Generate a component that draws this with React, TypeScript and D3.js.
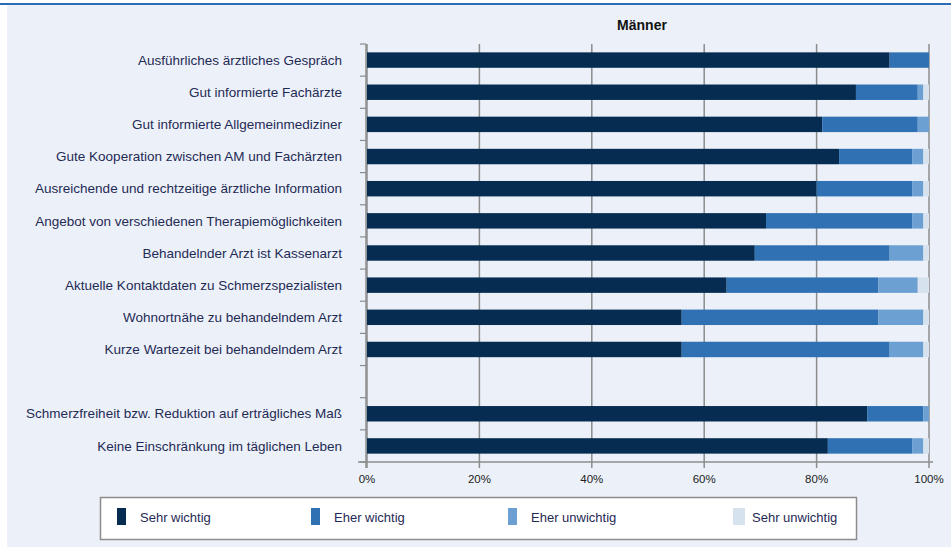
import React from "react";
import * as d3 from "d3";

// Categories, top to bottom; an empty string leaves a blank row between the groups
const categories = [
  "Ausführliches ärztliches Gespräch",
  "Gut informierte Fachärzte",
  "Gut informierte Allgemeinmediziner",
  "Gute Kooperation zwischen AM und Fachärzten",
  "Ausreichende und rechtzeitige ärztliche Information",
  "Angebot von verschiedenen Therapiemöglichkeiten",
  "Behandelnder Arzt ist Kassenarzt",
  "Aktuelle Kontaktdaten zu Schmerzspezialisten",
  "Wohnortnähe zu behandelndem Arzt",
  "Kurze Wartezeit bei behandelndem Arzt",
  "",
  "Schmerzfreiheit bzw. Reduktion auf erträgliches Maß",
  "Keine Einschränkung im täglichen Leben",
];

// Shares in percent, one value per category (null for the blank row)
const sehrWichtig = [93, 87, 81, 84, 80, 71, 69, 64, 56, 56, null, 89, 82];
const eherWichtig = [7, 11, 17, 13, 17, 26, 24, 27, 35, 37, null, 10, 15];
const eherUnwichtig = [0, 1, 2, 2, 2, 2, 6, 7, 8, 6, null, 1, 2];
const sehrUnwichtig = [0, 1, 0, 1, 1, 1, 1, 2, 1, 1, null, 0, 1];

const seriesNames = ["Sehr wichtig", "Eher wichtig", "Eher unwichtig", "Sehr unwichtig"];
const seriesColors = ["#062c52", "#2f71b3", "#6c9fd2", "#d7e2ef"];
const tickValues = [0, 20, 40, 60, 80, 100];

const title = "Männer";

const W = 951;
const H = 547;
const margin = { left: 366, right: 22, top: 44, bottom: 85 };
const FONT = "'Liberation Sans', Arial, sans-serif";

export default function App() {
  const seriesValues = [sehrWichtig, eherWichtig, eherUnwichtig, sehrUnwichtig];
  const rows = categories.map((c, i) => ({
    key: `${i}`,
    label: c,
    values: seriesValues.map((s) => s[i]),
  }));

  const x = d3.scaleLinear().domain([0, 100]).range([margin.left + 1, W - margin.right]);
  const y = d3
    .scaleBand<string>()
    .domain(rows.map((r) => r.key))
    .range([margin.top, H - margin.bottom])
    .paddingInner(0.52)
    .paddingOuter(0.26);

  const stackInput = rows
    .filter((r) => r.values[0] !== null)
    .map((r) => {
      const o: Record<string, number | string> = { key: r.key };
      seriesNames.forEach((n, j) => (o[n] = r.values[j] as number));
      return o;
    });
  const stacked = d3.stack<Record<string, number | string>>().keys(seriesNames)(stackInput as any);

  const plotTop = margin.top;
  const plotBottom = H - margin.bottom;
  const boundaries = d3
    .range(categories.length + 1)
    .map((i) => plotTop + i * ((plotBottom - plotTop) / categories.length));

  const legendX = [117, 311, 508, 733];

  return (
    <svg width={W} height={H} style={{ display: "block", position: "absolute", left: 0, top: 0 }} fontFamily={FONT}>
      <rect x={0} y={0} width={W} height={H} fill="#ffffff" />
      <rect x={7} y={5} width={W - 7} height={H - 5} fill="#ecf1f9" />
      <line x1={0} x2={W} y1={4} y2={4} stroke="#2b6db5" strokeWidth={2} />

      <text x={642} y={30} textAnchor="middle" fontSize={14} fontWeight="bold" fill="#111">
        {title}
      </text>

      {/* vertical gridlines with small ticks below the axis */}
      {tickValues.map((t) => (
        <g key={t}>
          <line x1={x(t)} x2={x(t)} y1={plotTop} y2={plotBottom + 6} stroke="#8c8c8c" strokeWidth={1.5} />
          <text x={x(t)} y={plotBottom + 21} textAnchor="middle" fontSize={11.5} fill="#222">
            {t}%
          </text>
        </g>
      ))}

      {/* left axis ticks at category boundaries */}
      {boundaries.map((b, i) => (
        <line key={i} x1={margin.left - 6} x2={margin.left} y1={b} y2={b} stroke="#8c8c8c" strokeWidth={1.2} />
      ))}
      <line x1={margin.left} x2={margin.left} y1={plotTop} y2={plotBottom + 6} stroke="#8c8c8c" strokeWidth={1.5} />
      <line x1={margin.left - 8} x2={W - margin.right + 4} y1={plotBottom} y2={plotBottom} stroke="#8c8c8c" strokeWidth={1.5} />

      {/* stacked bars */}
      {stacked.map((layer, j) => (
        <g key={seriesNames[j]} fill={seriesColors[j]}>
          {layer.map((d) => {
            const key = d.data.key as string;
            const w = x(d[1]) - x(d[0]);
            if (w <= 0) return null;
            return <rect key={key} x={x(d[0])} y={y(key)} width={w} height={y.bandwidth()} />;
          })}
        </g>
      ))}

      {/* category labels */}
      {rows.map((r) =>
        r.label ? (
          <text
            key={r.key}
            x={342}
            y={(y(r.key) as number) + y.bandwidth() / 2}
            dy="0.35em"
            textAnchor="end"
            fontSize={13.5}
            fill="#1f2a55"
          >
            {r.label}
          </text>
        ) : null
      )}

      {/* legend */}
      <rect x={100.5} y={497.5} width={756} height={42} fill="#ffffff" stroke="#8c8c8c" strokeWidth={1.5} />
      {seriesNames.map((n, j) => (
        <g key={n}>
          <rect x={legendX[j]} y={508} width={j === 3 ? 12 : 9} height={17} fill={seriesColors[j]} />
          <text x={legendX[j] + (j === 3 ? 19 : 23)} y={517} dy="0.35em" fontSize={13} fill="#1f2a55">
            {n}
          </text>
        </g>
      ))}
    </svg>
  );
}
